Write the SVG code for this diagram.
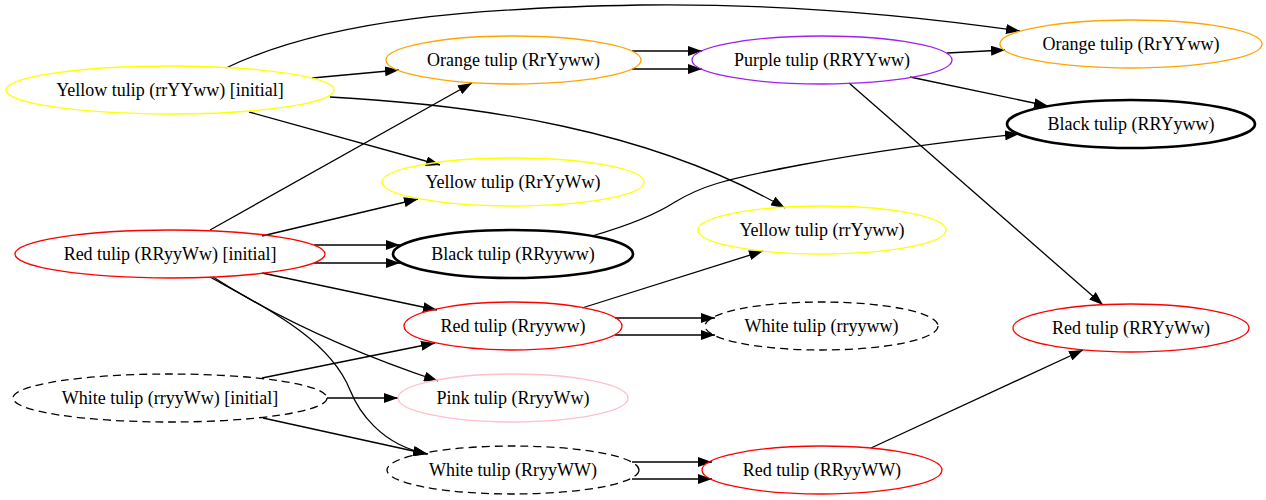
<svg xmlns="http://www.w3.org/2000/svg" width="1266" height="500" viewBox="0 0 1266 500">
<style>
text{font-family:"Liberation Serif","Times New Roman",serif;font-size:18px;fill:#000;text-anchor:middle}
ellipse{fill:none;stroke-width:1.3}
.dash{stroke:#000;stroke-dasharray:8,5}
.bold{stroke:#000;stroke-width:2.7}
.e path{fill:none;stroke:#000;stroke-width:1.3;marker-end:url(#ah)}
</style>
<defs>
<marker id="ah" markerUnits="userSpaceOnUse" markerWidth="15" markerHeight="10" refX="14" refY="5" orient="auto">
<path d="M0,0 L14,5 L0,10 z" fill="#000"/>
</marker>
</defs>
<g id="edges" class="e">
<path d="M312,78 L399,70"/>
<path d="M226,68 C330,18 480,8 640,5 C800,3 930,18 1020,31"/>
<path d="M249,112 L440,165"/>
<path d="M330,97 C480,105 650,130 785,208"/>
<path d="M210,230 L472,83"/>
<path d="M262,236 L418,199"/>
<path d="M314,245 L400,245"/>
<path d="M314,263 L400,263"/>
<path d="M262,273 L437,310"/>
<path d="M213,277 C280,320 360,355 438,381"/>
<path d="M210,277 C270,310 330,340 350,390 C358,410 380,445 428,454"/>
<path d="M592,236 C630,225 655,215 675,202 C700,187 720,180 800,165 C880,150 960,140 1019,134"/>
<path d="M632,51 L702,51"/>
<path d="M632,69 L702,69"/>
<path d="M947,53 L1005,50"/>
<path d="M910,77 L1048,106"/>
<path d="M849,83 L1103,305"/>
<path d="M582,308 L763,251"/>
<path d="M615,318 L715,318"/>
<path d="M615,335 L715,335"/>
<path d="M871,448 L1083,350"/>
<path d="M262,378 L435,343"/>
<path d="M327,398 L398,398"/>
<path d="M263,418 L427,454"/>
<path d="M632,462 L712,462"/>
<path d="M632,479 L712,479"/>
</g>
<g id="n1"><ellipse cx="170" cy="90" rx="164" ry="24" stroke="#ffff00"/><text x="170" y="96">Yellow tulip (rrYYww) [initial]</text></g>
<g id="n2"><ellipse cx="513.5" cy="60" rx="127.5" ry="24" stroke="#ffa500"/><text x="513.5" y="66">Orange tulip (RrYyww)</text></g>
<g id="n3"><ellipse cx="822" cy="60" rx="130" ry="24" stroke="#a020f0"/><text x="822" y="66">Purple tulip (RRYYww)</text></g>
<g id="n4"><ellipse cx="1131" cy="44" rx="131" ry="24" stroke="#ffa500"/><text x="1131" y="50">Orange tulip (RrYYww)</text></g>
<g id="n5"><ellipse cx="1131" cy="124" rx="124" ry="24" class="bold"/><text x="1131" y="130">Black tulip (RRYyww)</text></g>
<g id="n6"><ellipse cx="513" cy="182" rx="131" ry="24" stroke="#ffff00"/><text x="513" y="188">Yellow tulip (RrYyWw)</text></g>
<g id="n7"><ellipse cx="170" cy="254" rx="155" ry="24" stroke="#ff0000"/><text x="170" y="260">Red tulip (RRyyWw) [initial]</text></g>
<g id="n8"><ellipse cx="513" cy="254" rx="120" ry="24" class="bold"/><text x="513" y="260">Black tulip (RRyyww)</text></g>
<g id="n9"><ellipse cx="822" cy="230" rx="124" ry="24" stroke="#ffff00"/><text x="822" y="236">Yellow tulip (rrYyww)</text></g>
<g id="n10"><ellipse cx="513" cy="326" rx="109" ry="24" stroke="#ff0000"/><text x="513" y="332">Red tulip (Rryyww)</text></g>
<g id="n11"><ellipse cx="821.5" cy="326" rx="116.5" ry="24" class="dash"/><text x="821.5" y="332">White tulip (rryyww)</text></g>
<g id="n12"><ellipse cx="1131" cy="328" rx="118" ry="24" stroke="#ff0000"/><text x="1131" y="334">Red tulip (RRYyWw)</text></g>
<g id="n13"><ellipse cx="170" cy="398" rx="157" ry="24" class="dash"/><text x="170" y="404">White tulip (rryyWw) [initial]</text></g>
<g id="n14"><ellipse cx="513" cy="398" rx="115" ry="24" stroke="#ffc0cb"/><text x="513" y="404">Pink tulip (RryyWw)</text></g>
<g id="n15"><ellipse cx="513" cy="470" rx="126" ry="24" class="dash"/><text x="513" y="476">White tulip (RryyWW)</text></g>
<g id="n16"><ellipse cx="822" cy="470" rx="120" ry="24" stroke="#ff0000"/><text x="822" y="476">Red tulip (RRyyWW)</text></g>
</svg>
